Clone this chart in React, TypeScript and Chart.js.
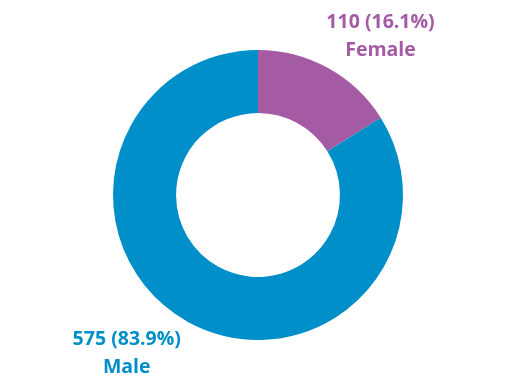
import React, { useEffect, useRef } from "react";
import { Chart, registerables } from "chart.js";

Chart.register(...registerables);

const categories = ["Female", "Male"];
const counts = [110, 575];
const percents = ["16.1%", "83.9%"];
const colors = ["#A55AA4", "#008FC8"];

const labelPlugin = {
  id: "outerLabels",
  afterDraw(chart: any) {
    const ctx = chart.ctx;
    const meta = chart.getDatasetMeta(0);
    // label anchor offsets relative to center, in units of outer radius
    const offsets = [
      [0.845, -1.092],
      [-0.905, 1.09],
    ];
    meta.data.forEach((arc: any, i: number) => {
      const { x, y, outerRadius } = arc.getProps(["x", "y", "outerRadius"], true);
      const lx = x + offsets[i][0] * outerRadius;
      const ly = y + offsets[i][1] * outerRadius;
      ctx.save();
      ctx.fillStyle = colors[i];
      ctx.font = "bold 19.5px 'Open Sans'";
      ctx.textAlign = "center";
      ctx.textBaseline = "middle";
      ctx.fillText(`${counts[i]} (${percents[i]})`, lx, ly - 14);
      ctx.fillText(categories[i], lx, ly + 14);
      ctx.restore();
    });
  },
};

export default function App() {
  const ref = useRef<HTMLCanvasElement>(null);
  useEffect(() => {
    document.body.style.margin = "0";
    const chart = new Chart(ref.current!, {
      type: "doughnut",
      data: {
        labels: categories,
        datasets: [
          {
            data: counts,
            backgroundColor: colors,
            borderWidth: 0,
          },
        ],
      },
      options: {
        animation: false,
        responsive: false,
        cutout: "56.5%",
        layout: { padding: { top: 50, bottom: 40, left: 100, right: 108 } },
        plugins: {
          legend: { display: false },
          tooltip: { enabled: false },
        },
      },
      plugins: [labelPlugin],
    });
    return () => chart.destroy();
  }, []);
  return (
    <div style={{ width: 524, height: 380, background: "#fff" }}>
      <canvas ref={ref} width={524} height={380} />
    </div>
  );
}
